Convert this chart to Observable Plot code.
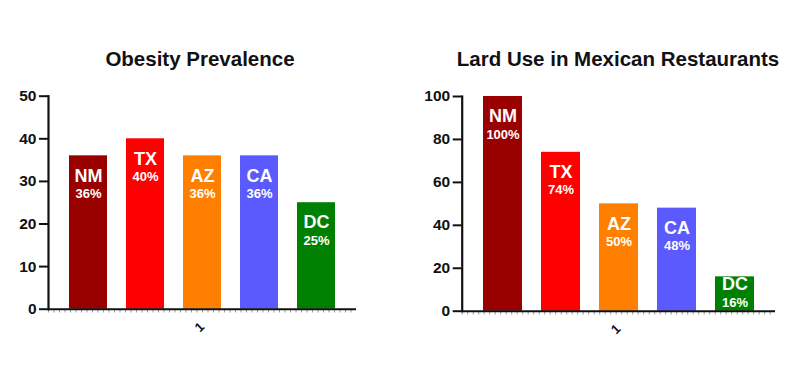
<!DOCTYPE html>
<html>
<head>
<meta charset="utf-8">
<script src="https://cdn.jsdelivr.net/npm/d3@7"></script>
<script src="https://cdn.jsdelivr.net/npm/@observablehq/plot@0.6"></script>
<style>
  html, body { margin: 0; padding: 0; background: #fff; }
  #wrap { position: relative; width: 800px; height: 374px; overflow: hidden; font-family: "Liberation Sans", Arial, sans-serif; }
  .panel { position: absolute; top: 0; }
  .title { position: absolute; top: 49px; width: 400px; text-align: center; font-size: 20.5px; font-weight: bold; line-height: 20px; color: #111; white-space: nowrap; }
</style>
</head>
<body>
<div id="wrap"></div>
<script>
const states = ["NM", "TX", "AZ", "CA", "DC"];
const colors = ["#990000", "#ff0000", "#ff8000", "#5a5aff", "#008000"];
const obesityValues = [36, 40, 36, 36, 25];
const lardValues = [100, 74, 50, 48, 16];
const obesityTicks = [0, 10, 20, 30, 40, 50];
const lardTicks = [0, 20, 40, 60, 80, 100];
const titles = ["Obesity Prevalence", "Lard Use in Mexican Restaurants"];
const xLabel = "1";

function panel(values, ticks, m, title, left, titleCenter) {
  const data = states.map((s, i) => ({state: s, value: values[i]}));
  const W = 400, H = 374;
  const ymax = ticks[ticks.length - 1];
  const pxPerUnit = (H - m.top - m.bottom) / ymax;
  const clamp = (38 + 8.5) / pxPerUnit; // keep labels inside short bars
  const chart = Plot.plot({
    width: W, height: H,
    marginLeft: m.left, marginRight: m.right, marginTop: m.top, marginBottom: m.bottom,
    style: {fontFamily: "'Liberation Sans', Arial, sans-serif", background: "transparent", overflow: "visible"},
    x: {type: "band", domain: states, paddingInner: 0.33, paddingOuter: 0.33, axis: null},
    y: {domain: [0, ymax], axis: null, label: null},
    color: {domain: states, range: colors},
    marks: [
      Plot.barY(data, {x: "state", y: "value", fill: "state"}),
      Plot.ruleY([0], {dy: 2, stroke: "#999", strokeWidth: 2.5, strokeDasharray: "1,4.5"}),
      Plot.ruleY([0], {stroke: "#111", strokeWidth: 2}),
      Plot.frame({anchor: "left", stroke: "#111", strokeWidth: 2.2}),
      Plot.axisY({ticks: ticks, label: null, tickSize: 9, tickPadding: 3, fontSize: 15.5, fontWeight: "bold", strokeWidth: 2, stroke: "#111", fill: "#111"}),
      Plot.text(data, {x: "state", y: d => Math.max(d.value, clamp), dy: 20, text: "state", fill: "white", fontSize: 18, fontWeight: "bold"}),
      Plot.text(data, {x: "state", y: d => Math.max(d.value, clamp), dy: 38, text: d => d.value + "%", fill: "white", fontSize: 13, fontWeight: "bold"}),
      Plot.text([xLabel], {frameAnchor: "bottom", dy: 21, rotate: -45, fontSize: 13, fontWeight: "bold", fill: "#111"})
    ]
  });
  chart.classList.add("panel");
  chart.style.left = left + "px";
  const wrap = document.getElementById("wrap");
  wrap.appendChild(chart);
  const t = document.createElement("div");
  t.className = "title";
  t.textContent = title;
  t.style.left = (titleCenter - 200) + "px";
  wrap.appendChild(t);
}

panel(obesityValues, obesityTicks, {left: 48, right: 44, top: 95.7, bottom: 65.3}, titles[0], 0, 200);
panel(lardValues, lardTicks, {left: 61.7, right: 25, top: 96, bottom: 63.3}, titles[1], 400, 618);
</script>
</body>
</html>
